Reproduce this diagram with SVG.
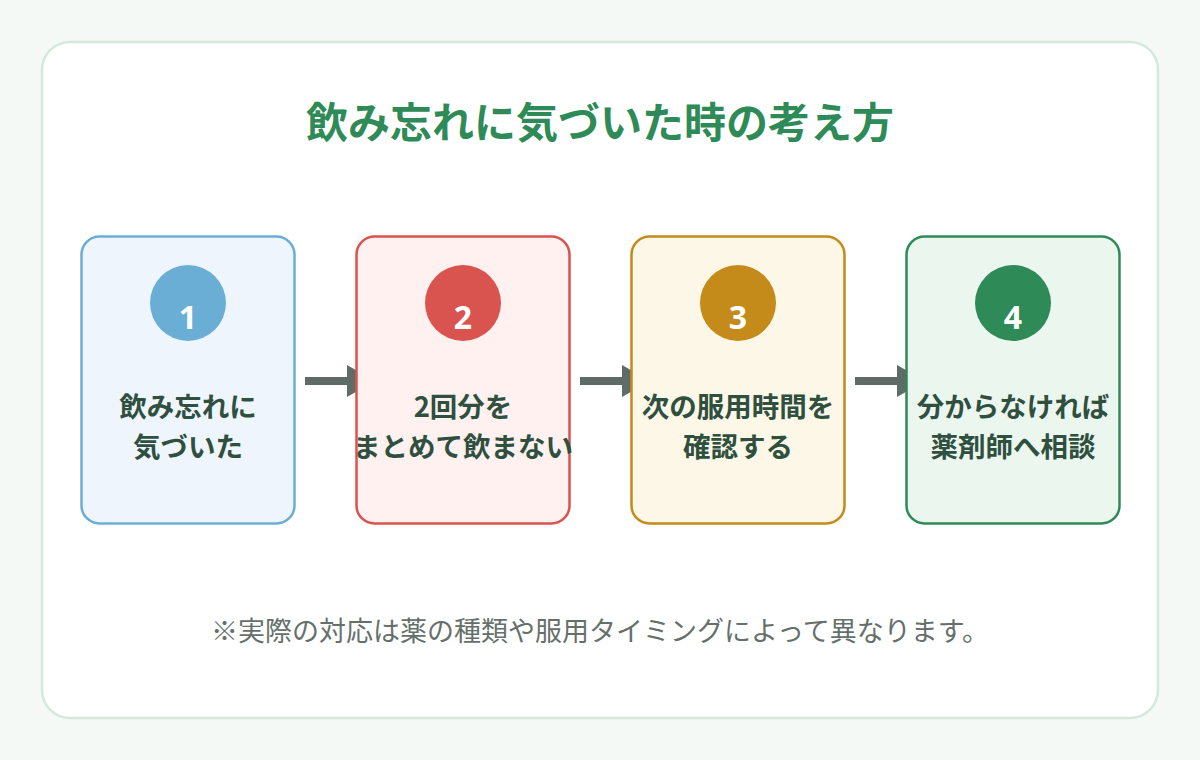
<svg xmlns="http://www.w3.org/2000/svg" width="1200" height="760" viewBox="0 0 1200 760">
<defs>
<style>
.cjk{font-family:"Noto Sans CJK JP","Noto Sans",sans-serif;}
.title{font-size:42px;font-weight:700;fill:#2e8b57;text-anchor:middle;}
.lbl{font-size:27.5px;font-weight:700;fill:#2f4f3f;text-anchor:middle;}
.num{font-size:32px;font-weight:700;fill:#ffffff;text-anchor:middle;font-family:"Noto Sans","Noto Sans CJK JP",sans-serif;}
.note{font-size:27px;fill:#66706b;text-anchor:middle;}
.box{stroke-width:2.5;}
.arrow{fill:#5f6b66;}
</style>
</defs>
<rect x="0" y="0" width="1200" height="760" fill="#f5f9f6"/>
<rect x="42" y="42" width="1116" height="676" rx="28" fill="#ffffff" stroke="#d4e8dc" stroke-width="2.5"/>
<text class="cjk title" x="600" y="138">飲み忘れに気づいた時の考え方</text>
<g id="connectors">
<g class="arrow"><rect x="305" y="377" width="44" height="8"/><polygon points="347,365 375,381 347,397"/></g>
<g class="arrow"><rect x="580" y="377" width="44" height="8"/><polygon points="622,365 650,381 622,397"/></g>
<g class="arrow"><rect x="855" y="377" width="44" height="8"/><polygon points="897,365 925,381 897,397"/></g>
</g>
<g id="step1">
<rect class="box" x="81.5" y="236.5" width="213" height="287" rx="18" fill="#eef5fd" stroke="#6aaed6"/>
<circle cx="188" cy="303" r="38" fill="#6aaed6"/>
<text class="num" x="188" y="329">1</text>
<text class="cjk lbl" x="188" y="417">飲み忘れに</text>
<text class="cjk lbl" x="188" y="457">気づいた</text>
</g>
<g id="step2">
<rect class="box" x="356.5" y="236.5" width="213" height="287" rx="18" fill="#fff1f0" stroke="#d9534f"/>
<circle cx="463" cy="303" r="38" fill="#d9534f"/>
<text class="num" x="463" y="329">2</text>
<text class="cjk lbl" x="463" y="417">2回分を</text>
<text class="cjk lbl" x="463" y="457">まとめて飲まない</text>
</g>
<g id="step3">
<rect class="box" x="631.5" y="236.5" width="213" height="287" rx="18" fill="#fdf7e7" stroke="#c48a1a"/>
<circle cx="738" cy="303" r="38" fill="#c48a1a"/>
<text class="num" x="738" y="329">3</text>
<text class="cjk lbl" x="738" y="417">次の服用時間を</text>
<text class="cjk lbl" x="738" y="457">確認する</text>
</g>
<g id="step4">
<rect class="box" x="906.5" y="236.5" width="213" height="287" rx="18" fill="#ebf6ee" stroke="#2e8b57"/>
<circle cx="1013" cy="303" r="38" fill="#2e8b57"/>
<text class="num" x="1013" y="329">4</text>
<text class="cjk lbl" x="1013" y="417">分からなければ</text>
<text class="cjk lbl" x="1013" y="457">薬剤師へ相談</text>
</g>
<text class="cjk note" x="600" y="641">※実際の対応は薬の種類や服用タイミングによって異なります。</text>
</svg>
